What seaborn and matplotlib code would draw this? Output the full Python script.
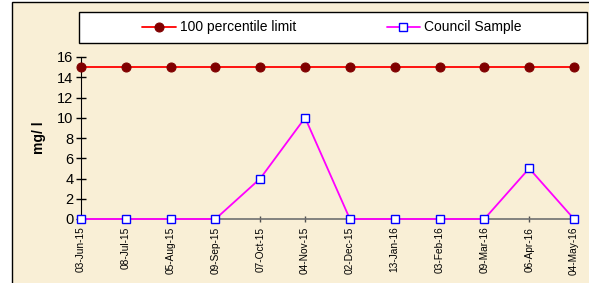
import matplotlib
matplotlib.use("Agg")
import matplotlib.pyplot as plt
import seaborn as sns
import pandas as pd
from matplotlib.patches import Rectangle

# data
dates = ['03-Jun-15', '08-Jul-15', '05-Aug-15', '09-Sep-15', '07-Oct-15', '04-Nov-15',
         '02-Dec-15', '13-Jan-16', '03-Feb-16', '09-Mar-16', '06-Apr-16', '04-May-16']
limit = [15] * 12
council = [0, 0, 0, 0, 4, 10, 0, 0, 0, 0, 5, 0]

sns.set_style("white")
plt.rcParams['font.family'] = ['Liberation Sans', 'DejaVu Sans']
plt.rcParams['text.color'] = 'black'
plt.rcParams['axes.labelcolor'] = 'black'
plt.rcParams['xtick.color'] = 'black'
plt.rcParams['ytick.color'] = 'black'

df = pd.DataFrame({'pos': range(len(dates)), 'limit': limit, 'council': council})

W, H = 589, 283
fig = plt.figure(figsize=(W / 100, H / 100), dpi=100)
fig.patch.set_facecolor('white')

# parchment panel with border on top/left
fig.patches.append(Rectangle((12 / W, -0.05), 1.1, 1.05 - 2 / H, transform=fig.transFigure,
                             facecolor='#F9EFD6', edgecolor='black', lw=1, zorder=0))

ax = fig.add_axes([81 / W, 1 - 219 / H, (574 - 81) / W, (219 - 57) / H])
ax.set_facecolor('none')
ax.set_zorder(2)

sns.lineplot(data=df, x='pos', y='limit', ax=ax, color='#FF0000', lw=1.3,
             marker='o', markersize=6.5, markerfacecolor='#800000',
             markeredgecolor='#800000', label='100 percentile limit', legend=False,
             clip_on=False, zorder=3)
sns.lineplot(data=df, x='pos', y='council', ax=ax, color='#FF00FF', lw=1.3,
             marker='s', markersize=6, markerfacecolor='white',
             markeredgecolor='#0000FF', markeredgewidth=1, label='Council Sample',
             legend=False, clip_on=False, zorder=4)

ax.set_xlim(0, len(dates) - 1)
ax.set_ylim(0, 16)
ax.set_yticks(range(0, 17, 2))
ax.set_xticks(range(len(dates)))
ax.set_xticklabels(dates, rotation=90, fontsize=7.3)
ax.tick_params(axis='y', left=True, labelsize=10.5, direction='inout', length=7,
               width=1, pad=2, color='black')
ax.tick_params(axis='x', bottom=True, direction='inout', length=5, width=1,
               color='#505050', pad=3)
for s in ['top', 'right']:
    ax.spines[s].set_visible(False)
ax.spines['left'].set_color('black')
ax.spines['bottom'].set_color('#707070')
ax.spines['bottom'].set_linewidth(1.2)
ax.set_xlabel('')
ax.set_ylabel('mg/ l', fontsize=10, fontweight='bold', labelpad=8)

# legend box
fig.patches.append(Rectangle((79 / W, 1 - 43 / H), 508 / W, 31 / H, transform=fig.transFigure,
                             facecolor='white', edgecolor='black', lw=1, zorder=1))
handles, labels = ax.get_legend_handles_labels()
leg = fig.legend(handles, labels, loc='center', bbox_to_anchor=(332 / W, 1 - 27.5 / H),
                 ncol=2, frameon=False, fontsize=10, handlelength=2.4, columnspacing=6.5,
                 handletextpad=0.3)
leg.set_zorder(3)

fig.savefig('out.png', dpi=100)
